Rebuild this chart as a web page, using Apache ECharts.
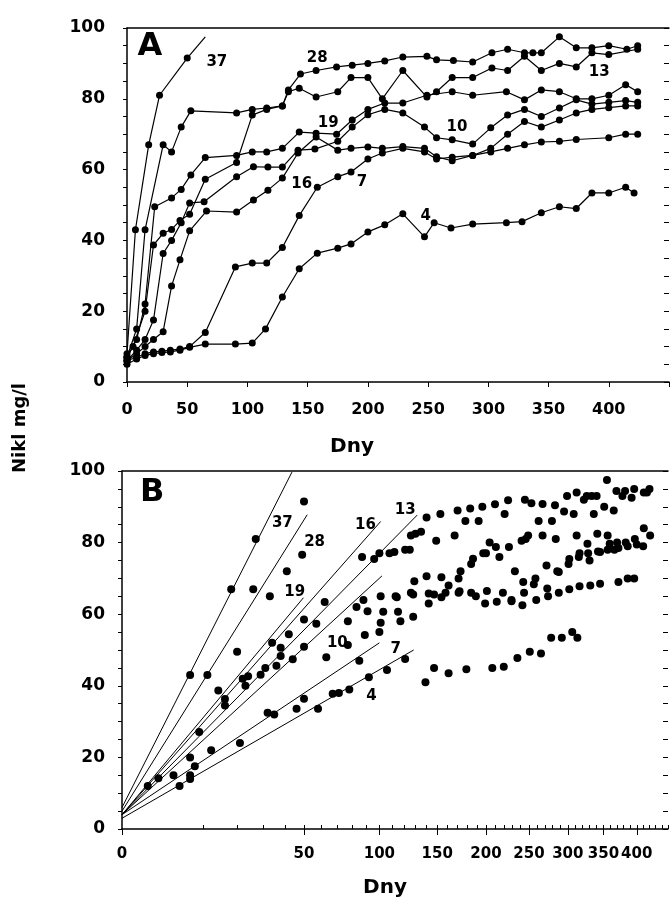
<!DOCTYPE html>
<html lang="cs">
<head>
<meta charset="UTF-8">
<title>Nikl mg/l</title>
<style>html,body{margin:0;padding:0;background:#fff}</style>
</head>
<body>
<div id="chart" style="width:672px;height:902px"></div>
<script src="https://cdn.jsdelivr.net/npm/echarts@6/dist/echarts.min.js"></script>
<script>
    // panel A: [den, nikl mg/l]
    var nikl37 = [[0,8],[7,43],[18,67],[27,81],[50,91.5]];
    var tail37 = [[50,91.5],[65,97.5]];
    var nikl28 = [[0,7],[8,15],[15,43],[30,67],[37,65],[45,72],[53,76.6],[91,76],[104,77],[116,77.4],[129,78],[134,82.5],[144,87],[157,88],[174,89],[187,89.5],[200,90],[214,90.7],[229,91.8],[249,92],[257,91],[271,90.8],[287,90.4],[303,93],[316,94],[330,93],[337,93],[344,93],[359,97.5],[373,94.4],[386,94.4],[400,95],[415,94],[424,95]];
    var nikl13 = [[0,7],[5,10],[15,20],[22,38.7],[30,42],[37,43.1],[44,45.6],[52,47.4],[65,57.3],[91,62],[104,75.4],[116,77],[129,78],[134,82],[143,83],[157,80.5],[175,82],[186,86],[200,86],[212,80],[229,88],[249,80.5],[257,82],[270,86],[287,86],[303,88.7],[316,88],[330,92],[344,88],[359,90],[373,89],[386,93],[400,92.5],[424,94]];
    var nikl19 = [[0,7],[8,12],[15,22],[23,49.5],[37,52],[45,54.4],[53,58.5],[65,63.4],[91,64],[104,65],[116,65],[129,66],[143,70.6],[157,70.3],[174,70],[187,74],[200,77],[214,78.8],[229,78.8],[249,81],[270,82],[287,81],[315,82],[330,79.7],[344,82.5],[359,82],[373,80],[386,80],[400,81],[414,84],[424,82]];
    var nikl10 = [[0,6],[8,9],[15,12],[22,17.5],[30,36.3],[37,40],[45,45],[52,50.6],[64,50.9],[91,58],[105,60.8],[117,60.7],[129,60.7],[142,65.5],[156,65.8],[175,68],[187,72],[200,75.5],[214,77],[229,76],[247,72],[257,69],[270,68.4],[287,67.2],[302,71.8],[316,75.4],[330,77],[344,75],[359,77.4],[373,79.7],[386,78.5],[400,79],[414,79.5],[424,79]];
    var nikl16 = [[0,6],[8,8],[15,10],[22,12],[30,14.2],[37,27.1],[44,34.5],[52,42.7],[66,48.3],[91,48],[105,51.4],[117,54.2],[129,57.6],[142,64.7],[157,69.2],[175,65.5],[186,66],[200,66.4],[212,66],[229,66.5],[247,66],[257,63.6],[270,62.5],[287,64],[302,65],[316,66],[330,67],[344,67.8],[359,68],[373,68.5],[400,69],[414,70],[424,70]];
    var nikl7 = [[0,6],[8,7],[15,8],[22,8.5],[29,8.7],[36,9],[44,9.3],[52,10],[65,14],[90,32.5],[104,33.6],[116,33.6],[129,38],[143,47],[158,55],[175,58],[186,59.3],[200,63],[212,64.7],[229,66],[247,65],[257,63],[270,63.5],[287,64],[302,66],[316,70],[330,73.6],[344,72],[359,74],[373,76],[386,77],[400,77.5],[414,78],[424,78]];
    var nikl4 = [[0,5],[8,6.5],[15,7.5],[22,8],[29,8.3],[36,8.5],[44,9],[52,9.8],[65,10.7],[90,10.7],[104,11],[115,15],[129,24],[143,32],[158,36.4],[175,37.8],[186,39],[200,42.4],[214,44.4],[229,47.5],[247,41],[255,45],[269,43.5],[287,44.6],[315,45],[328,45.3],[344,47.8],[359,49.5],[373,49],[386,53.4],[400,53.4],[414,55],[421,53.4]];

    var seriesNames = ['37','28','13','19','10','16','7','4'];
    var seriesData = [nikl37, nikl28, nikl13, nikl19, nikl10, nikl16, nikl7, nikl4];

    // panel B: cas od nastupu (dny), osa x v odmocnine
    var onsetB = [0, 4, 8, 3, 14, 28, 58, 108];
    var fitStartB = [6, 5, 4, 4, 4, 4, 4, 3];
    var fitEndDayB = [43.6, 51.8, 131.6, 49.7, 102, 101, 100, 128.4];
    var fitEndValB = [99.7, 87.8, 87.7, 64.6, 70.7, 85.9, 52, 50];

    var ticksA = [0, 50, 100, 150, 200, 250, 300, 350, 400];
    var ticksB = [0, 50, 100, 150, 200, 250, 300, 350, 400];
    var minorTicksB = [10,20,30,40,50,60,70,80,90,100,110,120,130,140,150,160,170,180,190,200,210,220,230,240,250,260,270,280,290,300,310,320,330,340,350,360,370,380,390,400,410,420,430,440,450];
    var dayMax = 450;

    var labelsA = [[74.6,90.4,'37'],[158,91.5,'28'],[392,87.6,'13'],[167,73,'19'],[274,72,'10'],[145,56,'16'],[195,56.5,'7'],[248,47,'4']];
    var labelsB = [[38.8,85.5,'37'],[56,80,'28'],[89.5,85,'16'],[121,89,'13'],[45,66.2,'19'],[70,52,'10'],[113,50.3,'7'],[94,37,'4']];

    var font = 'DejaVu Sans';
    var black = '#000';
    var clear = 'rgba(0,0,0,0)';

    function sq(d) { return Math.sqrt(d); }

    var chart = echarts.init(document.getElementById('chart'));

    var yAxisBase = function (grid, margin) {
        return {
            gridIndex: grid, type: 'value', position: 'left', min: 0, max: 100, interval: 20,
            axisLine: {show: true, onZero: false, lineStyle: {color: black, width: 1.5}},
            axisTick: {show: true, length: 4, lineStyle: {color: black}},
            minorTick: {show: true, splitNumber: 4, length: 4, lineStyle: {color: black}},
            splitLine: {show: false},
            axisLabel: {color: black, fontFamily: font, fontWeight: 'bold', fontSize: 17, margin: margin}
        };
    };
    var yAxisRight = function (grid) {
        return {
            gridIndex: grid, type: 'value', position: 'right', min: 0, max: 100, interval: 5,
            axisLine: {show: true, onZero: false, lineStyle: {color: clear}},
            axisTick: {show: true, inside: true, length: 5, lineStyle: {color: black}},
            splitLine: {show: false}, axisLabel: {show: false}
        };
    };
    var frameTop = function (grid, max) {
        return {
            gridIndex: grid, type: 'value', position: 'top', min: 0, max: max,
            axisLine: {show: true, onZero: false, lineStyle: {color: black, width: 1.5}},
            axisTick: {show: false}, axisLabel: {show: false}, splitLine: {show: false}
        };
    };

    var series = [];
    for (var i = 0; i < seriesNames.length; i++) {
        series.push({
            name: 'A' + seriesNames[i], type: 'line', xAxisIndex: 0, yAxisIndex: 0,
            data: seriesData[i], symbol: 'circle', symbolSize: 7,
            itemStyle: {color: black}, lineStyle: {color: black, width: 1.2}
        });
        var ptsB = [];
        for (var j = 0; j < seriesData[i].length; j++) {
            var p = seriesData[i][j];
            if (p[0] > onsetB[i]) ptsB.push([sq(p[0] - onsetB[i]), p[1]]);
        }
        series.push({
            name: 'B' + seriesNames[i], type: 'scatter', xAxisIndex: 2, yAxisIndex: 2,
            data: ptsB, symbol: 'circle', symbolSize: 8, itemStyle: {color: black, opacity: 1}
        });
        series.push({
            name: 'fit' + seriesNames[i], type: 'line', xAxisIndex: 2, yAxisIndex: 2,
            data: [[0, fitStartB[i]], [sq(fitEndDayB[i]), fitEndValB[i]]],
            symbol: 'none', lineStyle: {color: black, width: 1}
        });
    }
    series.push({
        type: 'line', xAxisIndex: 0, yAxisIndex: 0, data: tail37, symbol: 'none',
        lineStyle: {color: black, width: 1.2}
    });

    var textLabel = function (size) {
        return {
            show: true, position: 'inside', color: black, fontFamily: font,
            fontWeight: 'bold', fontSize: size,
            formatter: function (p) { return p.data[2]; }
        };
    };
    var textSeries = function (xi, yi, data, size) {
        return {
            type: 'scatter', xAxisIndex: xi, yAxisIndex: yi, data: data, symbolSize: 1,
            itemStyle: {color: clear, opacity: 1}, label: textLabel(size), z: 5
        };
    };
    series.push(textSeries(0, 0, labelsA, 15));
    series.push(textSeries(2, 2, labelsB.map(function (l) { return [sq(l[0]), l[1], l[2]]; }), 15));
    series.push(textSeries(0, 0, [[19, 94.6, 'A']], 32));
    series.push(textSeries(2, 2, [[sq(1.37), 94, 'B']], 32));

    var option = {
        animation: false,
        backgroundColor: '#fff',
        grid: [
            {left: 127, top: 28, width: 543, height: 354},
            {left: 122, top: 471, width: 546, height: 358}
        ],
        xAxis: [
            {
                gridIndex: 0, type: 'value', position: 'bottom', min: 0, max: dayMax, interval: 50,
                axisLine: {show: true, onZero: false, lineStyle: {color: black, width: 1.5}},
                axisTick: {show: true, length: 5, lineStyle: {color: black}},
                splitLine: {show: false},
                axisLabel: {
                    color: black, fontFamily: font, fontWeight: 'bold', fontSize: 16, margin: 20,
                    formatter: function (v) { return ticksA.indexOf(v) >= 0 ? v : ''; }
                }
            },
            frameTop(0, dayMax),
            {
                gridIndex: 1, type: 'value', position: 'bottom', min: 0, max: sq(dayMax),
                axisLine: {show: true, onZero: false, lineStyle: {color: black, width: 1.5}},
                axisTick: {show: true, length: 6, customValues: ticksB.map(sq), lineStyle: {color: black}},
                splitLine: {show: false},
                axisLabel: {
                    color: black, fontFamily: font, fontWeight: 'bold', fontSize: 15, margin: 18,
                    showMinLabel: true, showMaxLabel: true, hideOverlap: false,
                    customValues: ticksB.map(sq),
                    formatter: function (v) { return Math.round(v * v); }
                }
            },
            {
                gridIndex: 1, type: 'value', position: 'bottom', min: 0, max: sq(dayMax),
                axisLine: {show: true, onZero: false, lineStyle: {color: clear}},
                axisTick: {show: true, inside: true, length: 4, customValues: minorTicksB.map(sq), lineStyle: {color: black}},
                axisLabel: {show: false}, splitLine: {show: false}
            },
            frameTop(1, sq(dayMax))
        ],
        yAxis: [yAxisBase(0, 22), yAxisRight(0), yAxisBase(1, 17), yAxisRight(1)],
        graphic: [
            {type: 'text', x: 352, y: 447, style: {text: 'Dny', fill: black, font: 'bold 20px "DejaVu Sans"', textAlign: 'center', textVerticalAlign: 'middle'}},
            {type: 'text', x: 385, y: 888, style: {text: 'Dny', fill: black, font: 'bold 20px "DejaVu Sans"', textAlign: 'center', textVerticalAlign: 'middle'}},
            {type: 'text', x: 20, y: 428, rotation: Math.PI / 2, style: {text: 'Nikl mg/l', fill: black, font: 'bold 18px "DejaVu Sans"', textAlign: 'center', textVerticalAlign: 'middle'}}
        ],
        series: series
    };
    chart.setOption(option);
</script>
</body>
</html>
